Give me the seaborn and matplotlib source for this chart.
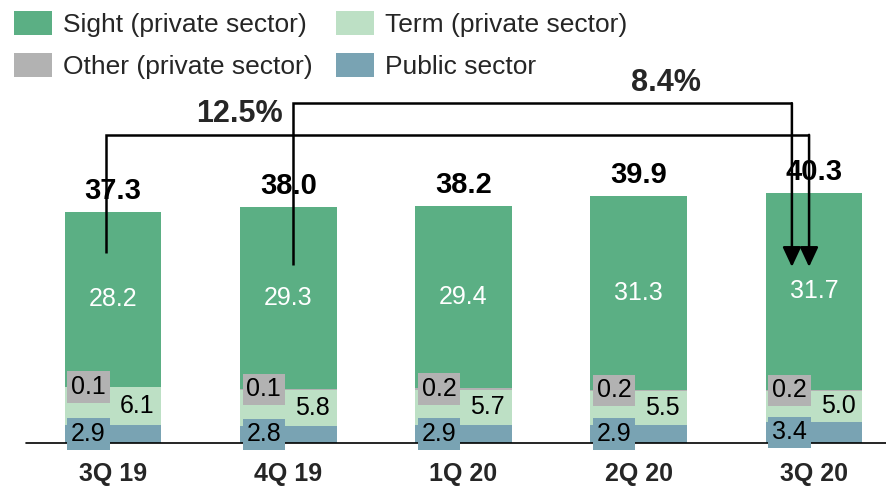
import pandas as pd
import seaborn as sns
import matplotlib.pyplot as plt
from matplotlib.patches import Patch

quarters = ['3Q 19', '4Q 19', '1Q 20', '2Q 20', '3Q 20']
public = [2.9, 2.8, 2.9, 2.9, 3.4]
term = [6.1, 5.8, 5.7, 5.5, 5.0]
other = [0.1, 0.1, 0.2, 0.2, 0.2]
sight = [28.2, 29.3, 29.4, 31.3, 31.7]
totals = [37.3, 38.0, 38.2, 39.9, 40.3]

# growth of sight deposits: from bar -> to bar
growth_labels = ['12.5%', '8.4%']
growth_from = [0, 1]
growth_to = [4, 4]

names = ['Sight (private sector)', 'Other (private sector)', 'Term (private sector)', 'Public sector']
colors = {'Sight (private sector)': '#5BAF84', 'Term (private sector)': '#BDE0C5',
          'Other (private sector)': '#B2B2B2', 'Public sector': '#79A3B3'}

df = pd.DataFrame({'quarter': quarters, 'public': public, 'term': term,
                   'other': other, 'sight': sight, 'total': totals})
df['c1'] = df['public']
df['c2'] = df['c1'] + df['term']
df['c3'] = df['c2'] + df['other']
df['c4'] = df['c3'] + df['sight']

sns.set_theme(style='white')
plt.rcParams['font.family'] = ['Liberation Sans', 'DejaVu Sans']

fig = plt.figure(figsize=(8.86, 4.87), dpi=100)
ax = fig.add_axes([0, 44 / 487, 1, 443 / 487])

W = 0.553
layers = [('c4', 'Sight (private sector)'), ('c3', 'Other (private sector)'),
          ('c2', 'Term (private sector)'), ('c1', 'Public sector')]
for col, name in layers:
    sns.barplot(data=df, x='quarter', y=col, color=colors[name], width=W,
                saturation=1, errorbar=None, linewidth=0, ax=ax)

ax.set_xlim(-0.645, 4.411)
ax.set_ylim(0, 71.45)
for s in ax.spines.values():
    s.set_visible(False)
ax.set_xlabel('')
ax.set_ylabel('')
ax.set_yticks([])
ax.set_xticks(range(len(quarters)))
ax.set_xticklabels(quarters, fontsize=18, fontweight='bold')
ax.tick_params(axis='x', length=0, pad=14)
ax.axhline(0, xmin=26 / 886, xmax=1, color='black', lw=1.2, clip_on=False, zorder=2)

for i, r in df.iterrows():
    ax.text(i, r.c3 + r.sight / 2, f'{r.sight:.1f}', color='white', fontsize=18,
            ha='center', va='center')
    ax.text(i + 0.137, r.c1 + r.term / 2, f'{r.term:.1f}', color='black', fontsize=18,
            ha='center', va='center')
    ax.text(i - 0.14, r.c2 + r.other / 2, f'{r.other:.1f}', color='black', fontsize=18,
            ha='center', va='center',
            bbox=dict(boxstyle='square,pad=0.15', fc=colors['Other (private sector)'], ec='none'))
    ax.text(i - 0.14, r.public / 2, f'{r.public:.1f}', color='black', fontsize=18,
            ha='center', va='center', clip_on=False,
            bbox=dict(boxstyle='square,pad=0.15', fc=colors['Public sector'], ec='none'))
    ax.text(i, r.total + 2.1, f'{r.total:.1f}', color='black', fontsize=21,
            fontweight='bold', ha='center', va='baseline')

# arrow paths: start offset/level, top level, end offset, label position
x_start = [-0.04, 0.027]
y_start = [30.6, 28.7]
y_top = [49.7, 54.8]
x_end = [-0.028, -0.126]
y_end = 28.4
label_x = [0.72, 3.155]
label_y = [51.8, 56.8]
for k in range(len(growth_labels)):
    xs = growth_from[k] + x_start[k]
    xe = growth_to[k] + x_end[k]
    ax.plot([xs, xs, xe], [y_start[k], y_top[k], y_top[k]], color='black', lw=1.8,
            solid_joinstyle='miter', solid_capstyle='butt', zorder=5)
    ax.annotate('', xy=(xe, y_end), xytext=(xe, y_top[k]),
                arrowprops=dict(arrowstyle='-|>,head_length=0.6,head_width=0.28',
                                mutation_scale=20, color='black', lw=1.8,
                                shrinkA=0, shrinkB=0), zorder=5)
    ax.text(label_x[k], label_y[k], growth_labels[k], fontsize=22, fontweight='bold',
            ha='center', va='baseline')

handles = [Patch(facecolor=colors[n], edgecolor='none') for n in names]
fig.legend(handles, names, loc='upper left', bbox_to_anchor=(14 / 886, 1 - 11 / 487),
           ncol=2, frameon=False, fontsize=19, handlelength=1.44, handleheight=1.02,
           handletextpad=0.42, columnspacing=0.87, labelspacing=0.62,
           borderpad=0, borderaxespad=0)

fig.savefig('out.png', dpi=100)
